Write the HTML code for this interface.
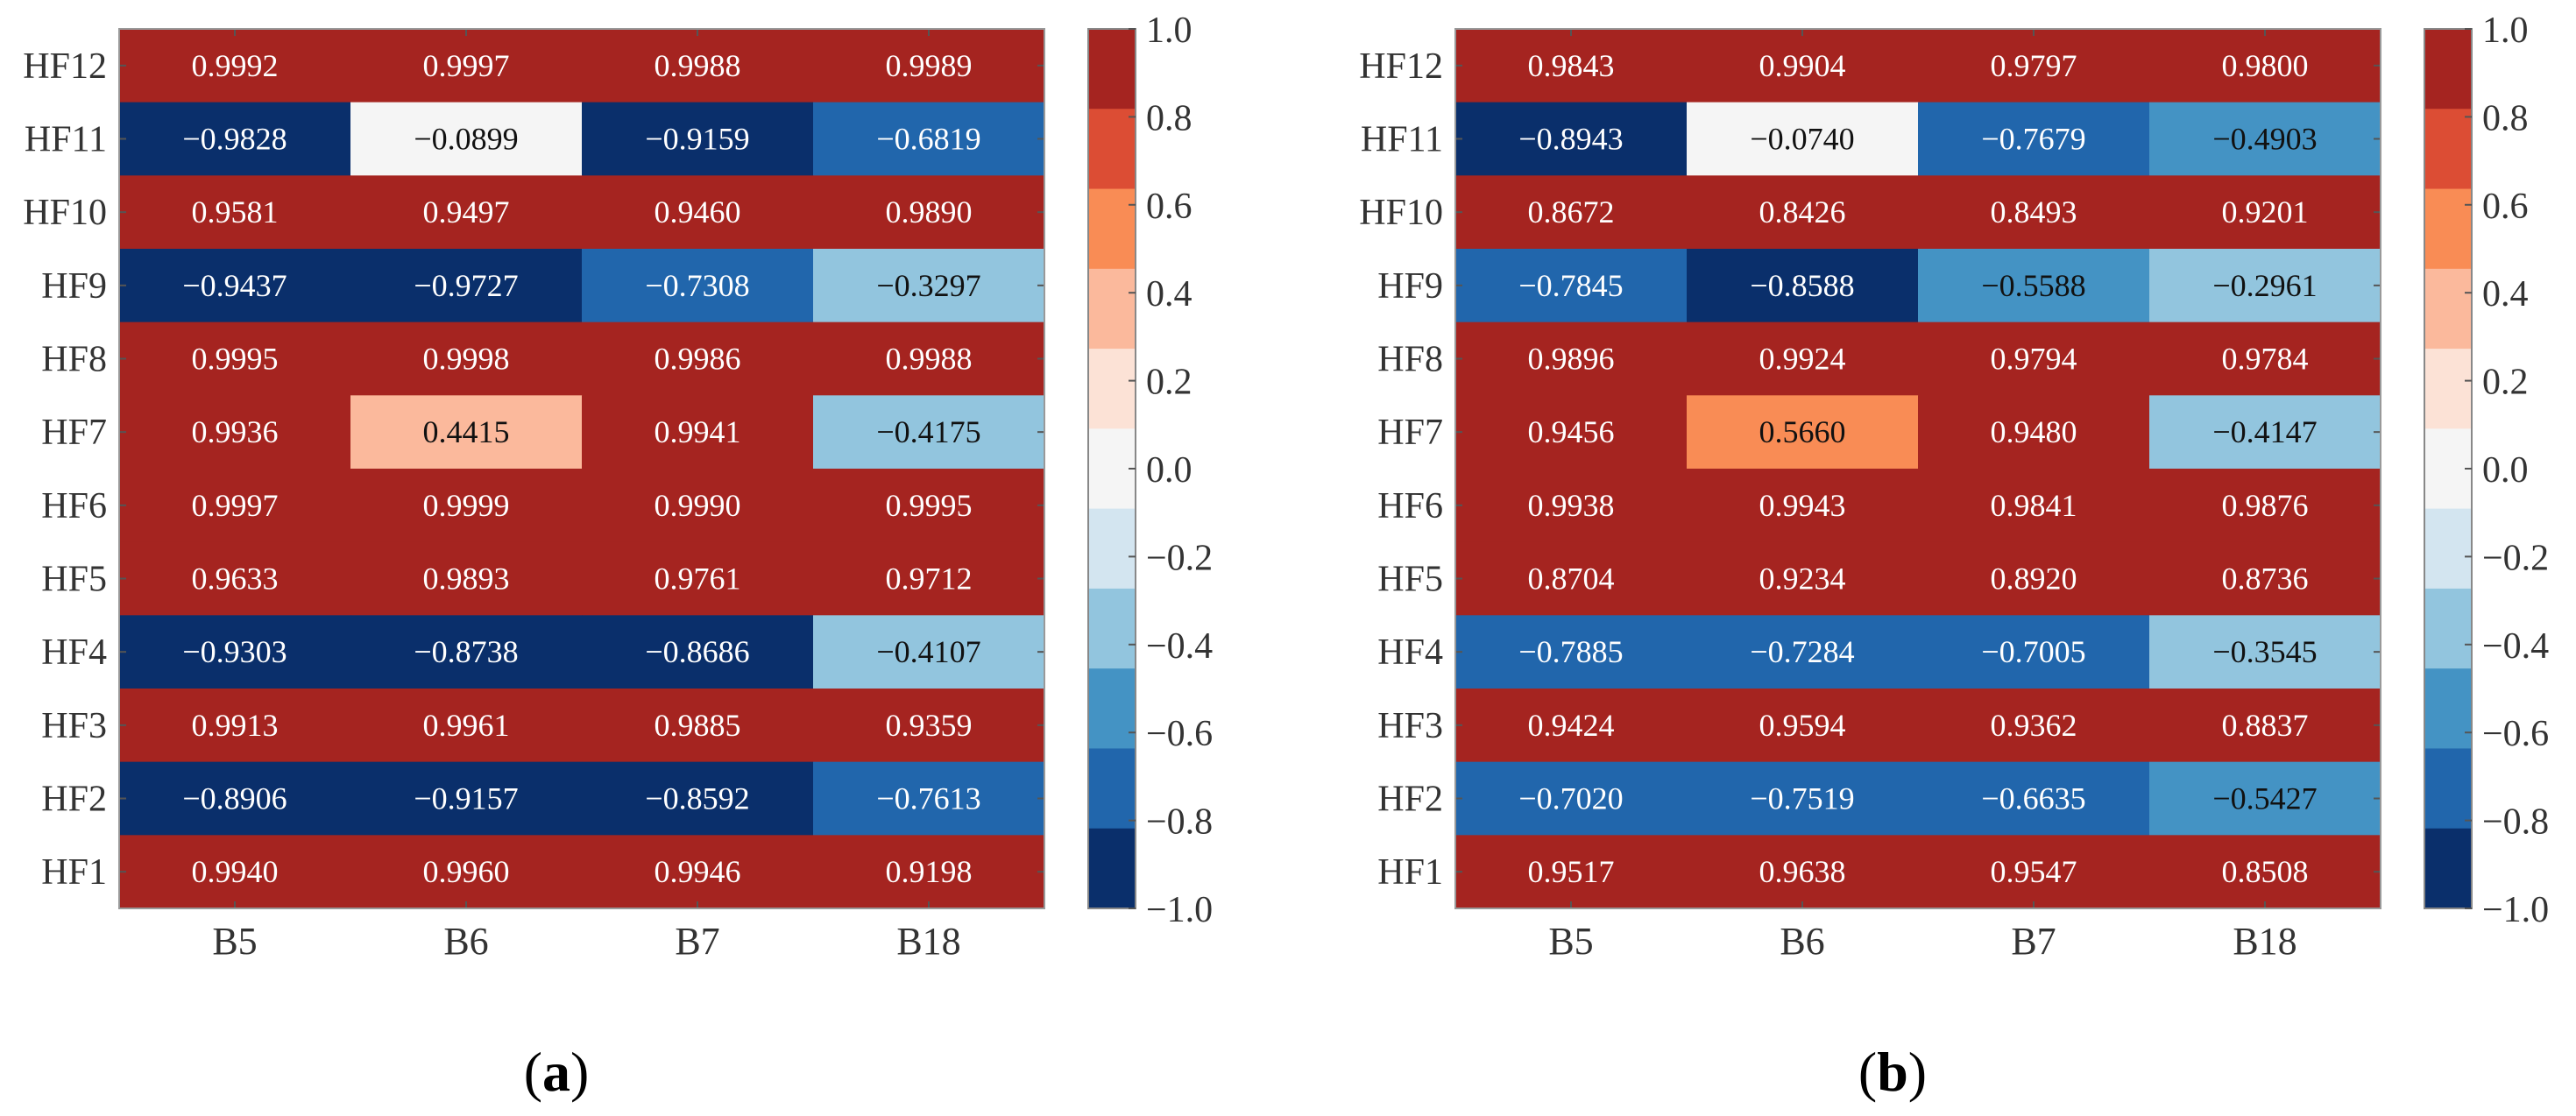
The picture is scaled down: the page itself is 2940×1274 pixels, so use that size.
<!DOCTYPE html>
<html><head><meta charset="utf-8">
<style>
html,body{margin:0;padding:0;background:#fff;}
svg{display:block;font-family:"Liberation Serif",serif;}
</style></head>
<body>
<svg id="fig" width="2940" height="1274" viewBox="0 0 2940 1274"></svg>
<script>
const rows = ["HF12","HF11","HF10","HF9","HF8","HF7","HF6","HF5","HF4","HF3","HF2","HF1"];
const cols = ["B5","B6","B7","B18"];
const valuesA = [
 [0.9992,0.9997,0.9988,0.9989],
 [-0.9828,-0.0899,-0.9159,-0.6819],
 [0.9581,0.9497,0.9460,0.9890],
 [-0.9437,-0.9727,-0.7308,-0.3297],
 [0.9995,0.9998,0.9986,0.9988],
 [0.9936,0.4415,0.9941,-0.4175],
 [0.9997,0.9999,0.9990,0.9995],
 [0.9633,0.9893,0.9761,0.9712],
 [-0.9303,-0.8738,-0.8686,-0.4107],
 [0.9913,0.9961,0.9885,0.9359],
 [-0.8906,-0.9157,-0.8592,-0.7613],
 [0.9940,0.9960,0.9946,0.9198]
];
const valuesB = [
 [0.9843,0.9904,0.9797,0.9800],
 [-0.8943,-0.0740,-0.7679,-0.4903],
 [0.8672,0.8426,0.8493,0.9201],
 [-0.7845,-0.8588,-0.5588,-0.2961],
 [0.9896,0.9924,0.9794,0.9784],
 [0.9456,0.5660,0.9480,-0.4147],
 [0.9938,0.9943,0.9841,0.9876],
 [0.8704,0.9234,0.8920,0.8736],
 [-0.7885,-0.7284,-0.7005,-0.3545],
 [0.9424,0.9594,0.9362,0.8837],
 [-0.7020,-0.7519,-0.6635,-0.5427],
 [0.9517,0.9638,0.9547,0.8508]
];
const cbTicks = ["1.0","0.8","0.6","0.4","0.2","0.0","\u22120.2","\u22120.4","\u22120.6","\u22120.8","\u22121.0"];
const cbTickVals = [1,0.8,0.6,0.4,0.2,0,-0.2,-0.4,-0.6,-0.8,-1];
const palette = ["#a52420","#dc4d34","#f98c55","#fbb99c","#fce2d6","#f5f5f5","#d3e5f0","#92c5de","#4493c4","#2166ac","#0a2f6b"];

const NS="http://www.w3.org/2000/svg";
const svgEl=document.getElementById('fig');
function mk(tag,attrs,parent){const e=document.createElementNS(NS,tag);for(const k in attrs)e.setAttribute(k,attrs[k]);(parent||svgEl).appendChild(e);return e;}
function colorFor(v){let i=Math.floor((1-v)/2*palette.length);if(i<0)i=0;if(i>=palette.length)i=palette.length-1;return palette[i];}
function fmt(v){return (v<0?"\u2212":"")+Math.abs(v).toFixed(4);}

const topY=33, botY=1037, hmW=1056;
function drawPanel(ox,vals,label,name){
  const g=mk('g',{});
  
  
  const x0=ox, rowH=(botY-topY)/rows.length, colW=hmW/cols.length;
  const xs=j=>x0+j*colW, ys=i=>topY+i*rowH;
  rows.forEach((r,i)=>{
    cols.forEach((c,j)=>{
      const v=vals[i][j];
      const rc=mk('rect',{x:xs(j),y:ys(i),width:colW+0.5,height:rowH+0.5,fill:colorFor(v)},g);
      
      
      const t=mk('text',{x:xs(j)+colW/2,y:ys(i)+rowH/2+12,'text-anchor':'middle','font-size':36,fill:(Math.abs(v)<0.6?'#111':'#fff')},g);
      t.textContent=fmt(v);
      
      
    });
    const yl=mk('text',{x:x0-14,y:ys(i)+rowH/2+14,'text-anchor':'end','font-size':42,fill:'#333'},g);
    yl.textContent=r;
    
    
    mk('line',{x1:x0,x2:x0+8,y1:ys(i)+rowH/2,y2:ys(i)+rowH/2,stroke:'#555','stroke-width':2},g);
    mk('line',{x1:x0+hmW-8,x2:x0+hmW,y1:ys(i)+rowH/2,y2:ys(i)+rowH/2,stroke:'#555','stroke-width':2},g);
  });
  cols.forEach((c,j)=>{
    const cx=xs(j)+colW/2;
    const xl=mk('text',{x:cx,y:1089,'text-anchor':'middle','font-size':44,fill:'#333'},g);
    xl.textContent=c;
    
    
    mk('line',{x1:cx,x2:cx,y1:botY-8,y2:botY,stroke:'#555','stroke-width':2},g);
    mk('line',{x1:cx,x2:cx,y1:topY,y2:topY+8,stroke:'#555','stroke-width':2},g);
  });
  mk('rect',{x:x0,y:topY,width:hmW,height:botY-topY,fill:'none',stroke:'#999','stroke-width':2},g);
  const cbx=ox+1106, cbw=54, binH=(botY-topY)/palette.length;
  palette.forEach((col,k)=>{
    const b=mk('rect',{x:cbx,y:topY+k*binH,width:cbw,height:binH+0.5,fill:col},g);
    
    
  });
  mk('rect',{x:cbx,y:topY,width:cbw,height:botY-topY,fill:'none',stroke:'#888','stroke-width':2},g);
  const cy=v=>topY+(1-v)/2*(botY-topY);
  cbTicks.forEach((t,k)=>{
    const y=cy(cbTickVals[k]);
    mk('line',{x1:cbx+cbw-8,x2:cbx+cbw,y1:y,y2:y,stroke:'#555','stroke-width':2},g);
    const tl=mk('text',{x:cbx+cbw+12,y:y+15,'font-size':42,fill:'#333'},g);
    tl.textContent=t;
    
    
  });
  const pl=mk('text',{x:ox+499,y:1245,'text-anchor':'middle','font-size':64,fill:'#000'},g);
  
  
  pl.appendChild(document.createTextNode('('));
  const ts=mk('tspan',{'font-weight':'bold'},pl);
  ts.textContent=label;
  pl.appendChild(document.createTextNode(')'));
}
drawPanel(136,valuesA,'a','panel-a');
drawPanel(1661,valuesB,'b','panel-b');
</script>
</body></html>
